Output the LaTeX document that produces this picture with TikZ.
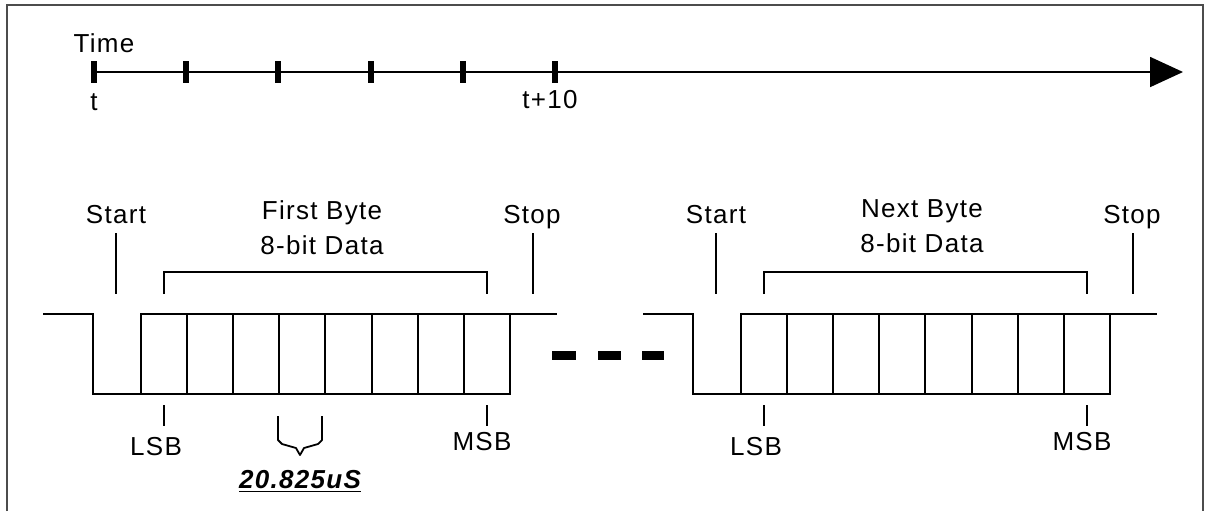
\documentclass[tikz,border=0pt]{standalone}
\usepackage{fontspec}
\setmainfont{Liberation Sans}[LetterSpace=5]
\usepackage{tikz}
\usetikzlibrary{arrows.meta,calc}
\newcommand\lbfont{\fontsize{13}{15.6}\selectfont}

\begin{document}
\begin{tikzpicture}[x=0.5pt,y=-0.5pt,line width=0.9pt,
  txt/.style={anchor=base,inner sep=0pt,font=\lbfont},
  tickmark/.style={line width=2.6pt},
  gapdash/.style={line width=4.5pt}]
  \useasboundingbox (0,0) rectangle (1208,511);
  \draw[line width=0.7pt,black!70] (7,511) |- (1203,5) -- (1203,511);
  % time axis
  \node[txt] (time) at (104,52) {Time};
  \foreach \i/\x in {0/94,1/186,2/278,3/371,4/463,5/555}{
    \coordinate (tk\i) at (\x,72);
    \draw[tickmark] ($(tk\i)+(0,-11)$) -- ($(tk\i)+(0,11)$);
  }
  \coordinate (tend) at (1183,72);
  \draw[-{Triangle[length=16.5pt,width=15pt]}] (tk0) -- (tend);
  \node[txt] (t0) at (94,110) {t};
  \node[txt] (t10) at (550,108) {t+10};
  % two frames
  \foreach \f/\dx/\ttl/\dy in {1/0/First/0,2/600/Next/-2}{
    \begin{scope}[shift={(\dx,0)}]
      \draw (43,314) -- (93,314) -- (93,394) -- (510,394) -- (510,314) -- (557,314);
      \draw (141,394) -- (141,314) -- (510,314);
      \foreach \x in {187,233,279,325,372,418,464}
        \draw (\x,314) -- (\x,394);
      \node[txt] (start\f) at (116,223) {Start};
      \node[txt] (stop\f) at (532,223) {Stop};
      \node[txt] (byte\f) at (322,219+\dy) {\ttl\ Byte};
      \node[txt] (data\f) at (322,254+\dy) {8-bit Data};
      \node[txt] (lsb\f) at (156,455) {LSB};
      \node[txt] (msb\f) at (482,450) {MSB};
      \draw ($(start\f.base)+(0,10)$) -- ++(0,61);
      \draw ($(stop\f.base)+(1,10)$) -- ++(0,61);
      \coordinate (db\f) at (164,294);
      \coordinate (de\f) at (487,294);
      \draw (db\f) |- (487,272) -- (de\f);
      \coordinate (lt\f) at (164,405);
      \coordinate (mt\f) at (487,405);
      \draw (lt\f) -- ++(0,21);
      \draw (mt\f) -- ++(0,21);
    \end{scope}
  }
  % bit time
  \draw[line join=round] (278,416) -- (278,440) -- (282,444) -- (296,448)
    -- (300,455) -- (304,448) -- (318,444) -- (322,440) -- (322,416);
  \node[txt] (bitt) at (300,488) {\bfseries\itshape\underline{20.825uS}};
  % gap
  \foreach \a/\b in {552/576,598/621,642/664}
    \draw[gapdash] (\a,355) -- (\b,355);
\end{tikzpicture}
\end{document}
